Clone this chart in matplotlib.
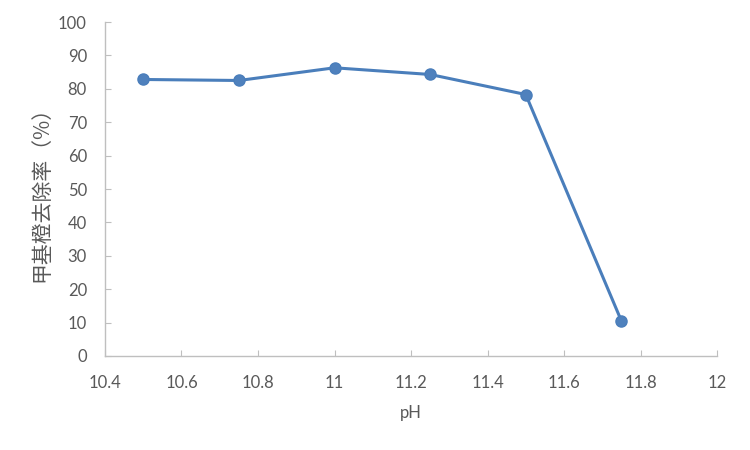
import matplotlib
matplotlib.use("Agg")
import matplotlib.pyplot as plt

ph = [10.5, 10.75, 11.0, 11.25, 11.5, 11.75]
removal = [82.8, 82.5, 86.3, 84.3, 78.3, 10.5]
xticks = [10.4, 10.6, 10.8, 11.0, 11.2, 11.4, 11.6, 11.8, 12.0]
xticklabels = ["10.4", "10.6", "10.8", "11", "11.2", "11.4", "11.6", "11.8", "12"]
yticks = [0, 10, 20, 30, 40, 50, 60, 70, 80, 90, 100]

plt.rcParams['font.family'] = ['Lato', 'Noto Sans CJK SC', 'DejaVu Sans']
txt = '#595959'
axc = '#BFBFBF'

fig = plt.figure(figsize=(7.5, 4.5), dpi=100)
ax = fig.add_axes([0.14, 0.209, 0.816, 0.742])
ax.plot(ph, removal, color='#4A7EBB', lw=2.2, marker='o', markersize=8,
        markerfacecolor='#4F81BD', markeredgecolor='#4A7EBB', clip_on=False)
ax.set_xlim(10.4, 12)
ax.set_ylim(0, 100)
ax.set_xticks(xticks)
ax.set_xticklabels(xticklabels)
ax.set_yticks(yticks)
for s in ['top', 'right']:
    ax.spines[s].set_visible(False)
for s in ['left', 'bottom']:
    ax.spines[s].set_color(axc)
    ax.spines[s].set_linewidth(1.0)
ax.tick_params(axis='both', direction='in', length=4, color=axc, labelcolor=txt, labelsize=12)
ax.tick_params(axis='x', pad=14)
ax.tick_params(axis='y', pad=13)
ax.set_xlabel('pH', color=txt, fontsize=12, labelpad=10)
ax.set_ylabel('甲基橙去除率（%）', color=txt, fontsize=15,
              family=['Noto Sans CJK SC', 'DejaVu Sans'], fontweight='light', labelpad=4)
fig.savefig('out.png', dpi=100)
